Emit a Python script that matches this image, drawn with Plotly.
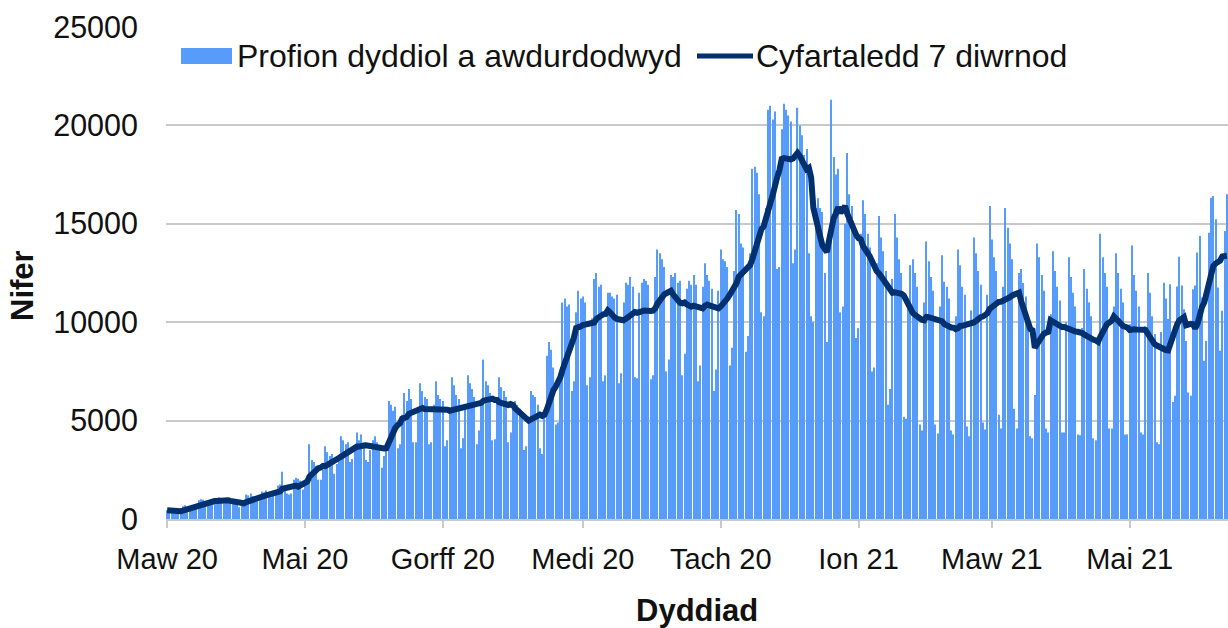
import pandas as pd
import plotly.graph_objects as go

# ---- Data (daily authorised tests, one row per week) ----
start_date = "2020-03-01"

tests_mar_may_2020 = [
    450, 420, 500, 380, 300, 350, 400,
    650, 700, 620, 600, 450, 600, 580,
    950, 1000, 980, 900, 700, 920, 850,
    1050, 1000, 1100, 950, 800, 850, 900,
    850, 900, 850, 800, 600, 780, 820,
    1250, 1200, 1300, 1150, 900, 1150, 1100,
    1400, 1350, 1450, 1300, 1100, 1250, 1250,
    1700, 1750, 2400, 1500, 1300, 1250, 1300,
    2000, 2100, 2050, 1950, 1500, 1800, 1900,
    3800, 3000, 2900, 2700, 2000, 2000, 2500,
    3700, 3400, 3200, 3300, 2300, 2800, 3000,
    4200, 4000, 3800, 3900, 2900, 3050, 3700,
    4400, 4000, 4300, 3800, 3000, 2900, 3500,
]
tests_jun_aug_2020 = [
    4000, 4200, 3900, 3700, 2600, 3200, 3600,
    6000, 5800, 5500, 5700, 3600, 3800, 5300,
    6400, 6000, 6600, 6100, 3900, 3900, 5600,
    6900, 6500, 6200, 6100, 3800, 3900, 5800,
    7000, 6300, 6100, 6000, 3700, 4000, 5400,
    7200, 6800, 6300, 6100, 3600, 4100, 5800,
    7300, 6900, 6600, 6200, 3800, 4500, 6000,
    8100, 7000, 6800, 6400, 4000, 4050, 6000,
    7200, 6700, 6500, 6200, 3900, 4400, 5700,
    6000, 5800, 5600, 5400, 3500, 3700, 5000,
    6500, 6300, 6200, 5800, 3600, 3300, 5400,
]
tests_sep_nov_2020 = [
    8300, 9000, 8600, 7700, 4800, 4900, 7100,
    11000, 11200, 10800, 10900, 6500, 7000, 10500,
    11600, 11200, 11300, 11000, 6800, 7200, 10200,
    12200, 12500, 11800, 11900, 7000, 7300, 11500,
    11500, 11300, 11200, 11400, 6900, 7400, 11000,
    12000, 11900, 12300, 11800, 7200, 7150, 11500,
    12000, 12200, 12100, 11900, 7100, 7300, 12300,
    13700, 13500, 13200, 12800, 7500, 8100, 12400,
    12300, 12500, 12000, 12100, 7300, 8400, 11700,
    12100, 11900, 12400, 11900, 7000, 7800, 11800,
    13000, 12400, 12100, 11700, 6500, 7600, 11600,
    13700, 13200, 13100, 12800, 7800, 8700, 12600,
    15700, 15500, 14000, 13800, 8500, 9300, 13500,
]
tests_dec_2020_feb_2021 = [
    17800, 17900, 17600, 16500, 10500, 10300, 15800,
    20800, 21000, 20300, 20700, 12700, 12800, 19800,
    21100, 20800, 20500, 20200, 13000, 13700, 20900,
    20000, 19500, 18500, 18800, 13500, 10300, 10000,
    15800, 16300, 15800, 15600, 12500, 9000, 14400,
    21300, 18400, 17500, 17800, 10500, 10800, 15000,
    18600, 16500, 15900, 15000, 9200, 9700, 14500,
    16200, 15500, 14500, 13800, 7500, 7700, 13000,
    15400, 14300, 13600, 12600, 5800, 6600, 12200,
    15500, 14300, 13200, 12500, 5200, 5100, 11200,
    12900, 13200, 12500, 11800, 4800, 4500, 11000,
    14100, 13100, 12300, 11600, 4800, 4350, 10800,
    13400, 12050, 11800, 11200, 4500, 4300, 10300,
]
tests_mar_jun_2021 = [
    13700, 12900, 11800, 11400, 4700, 4200, 10600,
    14300, 13500, 12600, 11900, 4900, 4550, 11400,
    15900, 14200, 13300, 12600, 5300, 4600, 11800,
    15800, 14800, 14000, 13200, 5600, 4600, 12500,
    12700, 12000, 11300, 10300, 4200, 4100, 6300,
    14000, 13300, 12400, 11600, 4600, 4400, 10400,
    13600, 12600, 11800, 11100, 4400, 4400, 10000,
    13300, 12300, 11500, 10800, 4300, 4250, 9700,
    12700, 11700, 11000, 10300, 4100, 4000, 9200,
    14500, 13300, 12500, 11800, 4600, 4600, 10800,
    13500, 12500, 11700, 11000, 4300, 4300, 9900,
    13900, 12400, 11600, 10800, 4400, 4300, 9800,
    12500, 11500, 10300, 9400, 3900, 3800, 9500,
    12000, 11200, 10160, 11930, 5940, 6260, 11810,
    13330, 11870, 10660, 9050, 6430, 6260, 11680,
    11870, 13540, 14380, 11250, 8040, 9050, 14550,
    16330, 16410, 15230, 11760, 8550, 10580, 14630,
    16500,
]

tick_dates = ["2020-03-01", "2020-05-01", "2020-07-01", "2020-09-01",
              "2020-11-01", "2021-01-01", "2021-03-01", "2021-05-01"]
tick_labels = ["Maw 20", "Mai 20", "Gorff 20", "Medi 20",
               "Tach 20", "Ion 21", "Maw 21", "Mai 21"]
y_ticks = [0, 5000, 10000, 15000, 20000, 25000]

bar_name = "Profion dyddiol a awdurdodwyd"
line_name = "Cyfartaledd 7 diwrnod"
x_title = "Dyddiad"
y_title = "Nifer"

# ---- Build ----
daily = (tests_mar_may_2020 + tests_jun_aug_2020 + tests_sep_nov_2020
         + tests_dec_2020_feb_2021 + tests_mar_jun_2021)
dates = pd.date_range(start_date, periods=len(daily), freq="D")
series = pd.Series(daily, index=dates)
avg7 = series.rolling(7, min_periods=1).mean()

BAR_COLOR = "#579CFA"
LINE_COLOR = "#00306E"
GRID = "#C9C9C9"
FONT = "Liberation Sans, Arial, sans-serif"
TXT = "#111111"

fig = go.Figure()
fig.add_trace(go.Bar(x=dates, y=series.values, name=bar_name,
                     marker=dict(color=BAR_COLOR, line=dict(width=0)),
                     showlegend=False))
fig.add_trace(go.Scatter(x=dates, y=avg7.values, name=line_name, mode="lines",
                         line=dict(color=LINE_COLOR, width=6),
                         showlegend=False))

W, H = 1228, 628
L, R, T, B = 166, 0, 27, 109
pw, ph = W - L - R, H - T - B

def px(xpix):
    return (xpix - L) / pw

def py(ypix):
    return (H - B - ypix) / ph

# legend drawn to match the reference swatch sizes
shapes = [
    dict(type="rect", xref="paper", yref="paper", x0=px(181), x1=px(232),
         y0=py(64), y1=py(48), fillcolor=BAR_COLOR, line=dict(width=0)),
    dict(type="line", xref="paper", yref="paper", x0=px(697), x1=px(753),
         y0=py(56), y1=py(56), line=dict(color=LINE_COLOR, width=5)),
]
annotations = [
    dict(xref="paper", yref="paper", x=px(235), y=py(56), text=bar_name,
         showarrow=False, xanchor="left", yanchor="middle",
         font=dict(family=FONT, size=32, color=TXT)),
    dict(xref="paper", yref="paper", x=px(754), y=py(56), text=line_name,
         showarrow=False, xanchor="left", yanchor="middle",
         font=dict(family=FONT, size=32, color=TXT)),
    dict(xref="paper", yref="paper", x=px(22), y=py(286), text="<b>%s</b>" % y_title,
         showarrow=False, xanchor="center", yanchor="middle", textangle=-90,
         font=dict(family=FONT, size=31, color=TXT)),
    dict(xref="paper", yref="paper", x=px(697), y=py(610), text="<b>%s</b>" % x_title,
         showarrow=False, xanchor="center", yanchor="middle",
         font=dict(family=FONT, size=31, color=TXT)),
]

fig.update_layout(
    width=W, height=H,
    margin=dict(l=L, r=R, t=T, b=B, pad=0),
    paper_bgcolor="white", plot_bgcolor="white",
    bargap=0.5,
    font=dict(family=FONT, size=29, color=TXT),
    shapes=shapes, annotations=annotations,
    showlegend=False,
)
fig.update_xaxes(
    type="date",
    range=["2020-02-29 12:00", "2021-06-13 12:00"],
    tickmode="array", tickvals=tick_dates, ticktext=tick_labels,
    showgrid=False, showline=True, linecolor=GRID, linewidth=1.5,
    ticks="outside", ticklen=7, tickcolor=GRID, tickwidth=1.5,
    tickfont=dict(family=FONT, size=29, color=TXT),
    ticklabelstandoff=6,
)
fig.update_yaxes(
    range=[0, 25000], tickmode="array", tickvals=y_ticks,
    ticktext=[str(v) for v in y_ticks],
    showgrid=True, gridcolor=GRID, gridwidth=1.5,
    zeroline=False, showline=False, ticks="",
    tickfont=dict(family=FONT, size=30.5, color=TXT),
    ticklabelstandoff=27,
)

fig.write_html("out.html", config={"displayModeBar": False},
               post_script="document.body.style.margin='0';")
